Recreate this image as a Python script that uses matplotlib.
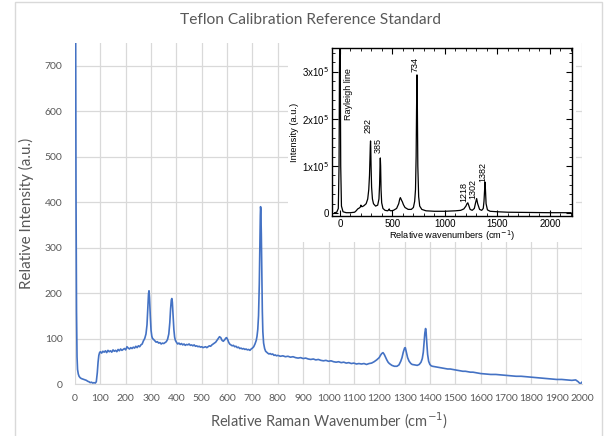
import matplotlib
matplotlib.use("Agg")
import matplotlib.pyplot as plt
from matplotlib.patches import Rectangle
from matplotlib.ticker import MultipleLocator

# ---------------- main spectrum data ----------------
wavenumber = [0, 2, 4, 6, 8, 10, 13, 16, 20, 25, 30, 35, 40, 45, 50, 55, 60, 65, 70, 75, 80, 84, 88, 91, 94, 97,
              100, 105, 110, 115, 120, 125, 130, 135, 140, 145, 150, 155, 160, 165, 170, 175, 180, 185, 190, 195,
              200, 205, 210, 215, 220, 225, 230, 235, 240, 245, 250, 255, 260, 265, 270, 275, 280, 284, 287, 290,
              292, 294, 297, 300, 303, 306, 310, 315, 320, 325, 330, 335, 340, 345, 350, 355, 360, 365, 370, 374,
              377, 380, 382, 384, 387, 390, 393, 396, 400, 405, 410, 415, 420, 425, 430, 435, 440, 445, 450, 455,
              460, 465, 470, 475, 480, 485, 490, 495, 500, 505, 510, 515, 520, 525, 530, 535, 540, 545, 550, 555,
              560, 565, 570, 575, 580, 585, 590, 595, 598, 602, 606, 610, 615, 620, 625, 630, 635, 640, 645, 650,
              655, 660, 665, 670, 675, 680, 685, 690, 695, 700, 705, 710, 715, 718, 721, 724, 727, 729, 731, 732,
              733, 735, 737, 739, 741, 744, 748, 752, 756, 760, 765, 770, 775, 780, 785, 790, 795, 800, 810, 820,
              830, 840, 850, 860, 870, 880, 890, 900, 910, 920, 930, 940, 950, 960, 970, 980, 990, 1000, 1010,
              1020, 1030, 1040, 1050, 1060, 1070, 1080, 1090, 1100, 1110, 1120, 1130, 1140, 1150, 1160, 1170,
              1180, 1190, 1200, 1205, 1210, 1215, 1220, 1225, 1230, 1235, 1240, 1250, 1260, 1270, 1278, 1285,
              1290, 1295, 1300, 1303, 1307, 1312, 1318, 1325, 1330, 1340, 1350, 1358, 1365, 1370, 1374, 1377,
              1380, 1383, 1385, 1388, 1391, 1395, 1400, 1405, 1410, 1420, 1430, 1440, 1450, 1460, 1470, 1480,
              1490, 1500, 1510, 1520, 1530, 1540, 1550, 1560, 1570, 1580, 1590, 1600, 1620, 1640, 1660, 1680,
              1700, 1720, 1740, 1760, 1780, 1800, 1820, 1840, 1860, 1880, 1900, 1920, 1940, 1960, 1975, 1985,
              1990, 1995, 2000]
intensity = [1600, 900, 420, 160, 60, 32, 22, 17, 14, 12, 11, 10, 9, 8, 6, 5, 3, 4, 2, 3, 2, 5, 25, 48, 63, 69,
             71, 68, 72, 70, 73, 69, 74, 71, 73, 70, 75, 72, 74, 71, 76, 73, 77, 74, 76, 78,
             75, 82, 79, 77, 80, 78, 81, 79, 83, 80, 84, 82, 86, 88, 95, 100, 110, 130, 165, 198,
             205, 190, 150, 118, 105, 100, 98, 95, 92, 93, 90, 91, 88, 90, 89, 91, 93, 98, 110, 135,
             165, 185, 188, 180, 150, 120, 103, 96, 92, 88, 90, 87, 89, 86, 88, 85, 87, 86, 88, 85,
             86, 84, 86, 83, 84, 82, 83, 81, 82, 80, 81, 82, 80, 82, 84, 83, 86, 88, 90, 92,
             96, 100, 104, 102, 96, 94, 97, 101, 102, 98, 92, 88, 86, 84, 85, 82, 83, 80, 81, 78,
             79, 77, 78, 76, 77, 75, 76, 74, 77, 79, 82, 88, 96, 105, 120, 150, 220, 300, 370, 390,
             385, 330, 240, 160, 115, 90, 78, 72, 70, 68, 66, 67, 65, 66, 63, 64, 62, 63, 61, 62,
             60, 61, 59, 60, 58, 57, 58, 56, 57, 55, 54, 55, 53, 54, 52, 51, 52, 50, 51,
             49, 48, 49, 47, 48, 46, 47, 45, 46, 44, 45, 44, 45, 43, 45, 46,
             49, 53, 58, 63, 67, 69, 65, 59, 53, 48, 45, 41, 39, 39, 42, 50,
             58, 70, 79, 80, 70, 58, 50, 45, 43, 42, 41, 43, 48, 56, 70, 90,
             112, 122, 115, 88, 65, 50, 43, 40, 39, 38, 37, 36, 35, 34, 33, 33,
             32, 31, 30, 29, 28, 28, 27, 26, 26, 25, 24, 23, 22, 21, 21, 20,
             19, 18, 17, 17, 16, 15, 14, 13, 12, 11, 10, 10, 9, 8, 9, 5,
             2, 1, 4]

# ---------------- inset (literature spectrum) data ----------------
inset_wn = [-50, -30, -15, -8, -4, 0, 4, 8, 15, 30, 60, 100, 140, 155, 170, 185, 195, 200, 205, 215, 230, 250,
            265, 275, 282, 287, 290, 292, 294, 297, 302, 310, 320, 340, 360, 372, 378, 382, 385, 388, 392, 398,
            410, 430, 455, 465, 470, 475, 485, 510, 540, 560, 570, 576, 582, 588, 595, 605, 620, 650, 680, 700,
            712, 720, 726, 730, 734, 738, 742, 750, 760, 780, 820, 900, 1000, 1100, 1150, 1180, 1200, 1210,
            1218, 1226, 1240, 1260, 1280, 1292, 1302, 1312, 1330, 1350, 1365, 1372, 1378, 1382, 1386, 1392,
            1405, 1430, 1500, 1600, 1800, 2000, 2200]
inset_int = [0.01, 0.02, 0.1, 1.0, 3.0, 4.0, 3.0, 1.0, 0.15, 0.03, 0.01, 0.01, 0.02, 0.05, 0.09, 0.11, 0.13,
             0.17, 0.14, 0.14, 0.16, 0.2, 0.3, 0.5, 0.8, 1.2, 1.45, 1.53, 1.4, 1.0, 0.55, 0.3, 0.2, 0.15, 0.17,
             0.3, 0.6, 1.0, 1.17, 1.0, 0.5, 0.22, 0.1, 0.06, 0.05, 0.07, 0.09, 0.06, 0.05, 0.06, 0.1, 0.2, 0.3,
             0.33, 0.3, 0.27, 0.24, 0.18, 0.12, 0.08, 0.08, 0.12, 0.25, 0.5, 1.2, 2.2, 2.93, 2.2, 1.0, 0.35,
             0.15, 0.08, 0.05, 0.04, 0.04, 0.05, 0.06, 0.09, 0.15, 0.2, 0.22, 0.17, 0.08, 0.06, 0.1, 0.22, 0.31,
             0.2, 0.08, 0.06, 0.1, 0.25, 0.5, 0.66, 0.5, 0.2, 0.07, 0.04, 0.03, 0.02, 0.015, 0.01, 0.01]
inset_int = [v * 1e5 for v in inset_int]

peak_labels = ["Rayleigh line", "292", "385", "734", "1218", "1302", "1382"]
peak_label_x = [84, 268, 363, 714, 1178, 1268, 1362]
peak_label_y = [1.97e5, 1.69e5, 1.27e5, 3.0e5, 0.23e5, 0.31e5, 0.66e5]

main_xticks = list(range(0, 2001, 100))
main_yticks = list(range(0, 701, 100))
inset_xticks = [0, 500, 1000, 1500, 2000]
inset_yticks = [0, 1e5, 2e5, 3e5]
inset_yticklabels = ["0", r"1x10$^5$", r"2x10$^5$", r"3x10$^5$"]

W, H = 605, 436
fig = plt.figure(figsize=(W / 100, H / 100), dpi=100)
plt.rcParams['font.family'] = ['Lato', 'DejaVu Sans']

gray_txt = '#595959'
grid_c = '#d9d9d9'

# outer chart frame
fig.patches.append(Rectangle((15 / W, -0.05), (602 - 15) / W, 1.05 - 2 / H, transform=fig.transFigure,
                             facecolor='white', edgecolor=grid_c, lw=1.0, zorder=-1))

ax = fig.add_axes([75 / W, 1 - 384 / H, (582 - 75) / W, (384 - 43) / H])
ax.set_facecolor('none')
ax.plot(wavenumber, intensity, color='#4472C4', lw=1.2, clip_on=True)
ax.set_xlim(0, 2000)
ax.set_ylim(0, 750)
ax.set_xticks(main_xticks)
ax.set_yticks(main_yticks)
ax.grid(True, color=grid_c, lw=0.9)
ax.set_axisbelow(True)
for s in ['top', 'right', 'left']:
    ax.spines[s].set_visible(False)
ax.spines['bottom'].set_color(grid_c)
ax.tick_params(length=0, labelsize=7.5, labelcolor=gray_txt, pad=7)
ax.tick_params(axis='y', pad=9)
ax.set_xlabel('Relative Raman Wavenumber (cm$^{-1}$)', fontsize=10.5, color=gray_txt, labelpad=6)
ax.set_ylabel('Relative Intensity (a.u.)', fontsize=11, color=gray_txt, labelpad=8)
fig.text(310 / W, 1 - 20 / H, 'Teflon Calibration Reference Standard', ha='center', va='center',
         fontsize=11.2, color=gray_txt)

# white background behind the inset picture
fig.patches.append(Rectangle((288 / W, 1 - 242 / H), (576 - 288) / W, (242 - 40) / H,
                             transform=fig.transFigure, facecolor='white', edgecolor='none', zorder=1))

iax = fig.add_axes([332 / W, 1 - 216 / H, (572 - 332) / W, (216 - 48) / H], zorder=2)
iax.plot(inset_wn, inset_int, color='black', lw=0.9)
iax.set_xlim(-75, 2210)
iax.set_ylim(-6000, 3.5e5)
iax.set_xticks(inset_xticks)
iax.set_yticks(inset_yticks)
iax.set_yticklabels(inset_yticklabels)
iax.xaxis.set_minor_locator(MultipleLocator(100))
iax.yaxis.set_minor_locator(MultipleLocator(2e4))
iax.tick_params(which='both', direction='in', top=True, right=True, labelsize=7, pad=2)
iax.tick_params(which='major', length=4, width=0.8)
iax.tick_params(which='minor', length=2, width=0.6)
for s in iax.spines.values():
    s.set_linewidth(1.0)
for lab in iax.get_xticklabels() + iax.get_yticklabels():
    lab.set_family('Liberation Sans')
iax.set_xlabel('Relative wavenumbers (cm$^{-1}$)', fontsize=6.7, family='Liberation Sans', labelpad=0)
iax.set_ylabel('Intensity (a.u.)', fontsize=6.7, family='Liberation Sans', labelpad=2)
for t, x, y in zip(peak_labels, peak_label_x, peak_label_y):
    iax.text(x, y, t, rotation=90, ha='center', va='bottom', fontsize=6.5, family='Liberation Sans')

fig.savefig('out.png', dpi=100)
